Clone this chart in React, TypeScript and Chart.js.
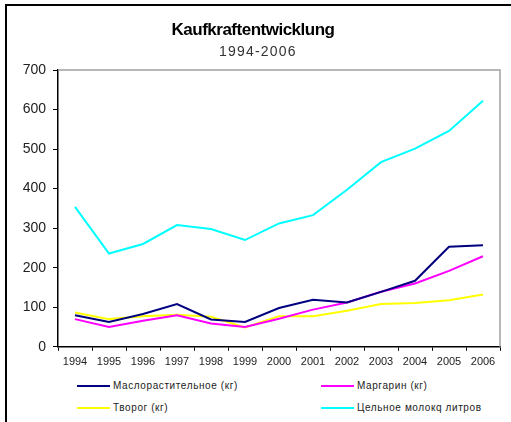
import React, { useEffect, useRef } from "react";
import { Chart, registerables } from "chart.js";

Chart.register(...registerables);

const years = ["1994", "1995", "1996", "1997", "1998", "1999", "2000", "2001", "2002", "2003", "2004", "2005", "2006"];
const oil = [80, 63, 83, 108, 69, 63, 98, 119, 112, 139, 167, 253, 257];
const margarine = [70, 50, 66, 80, 59, 50, 71, 94, 112, 139, 160, 192, 229];
const quark = [87, 70, 77, 81, 76, 49, 77, 77, 91, 108, 111, 118, 132];
const milk = [354, 236, 260, 308, 298, 270, 312, 333, 397, 467, 501, 546, 622];

const seriesNames = ["Маслорастительное (кг)", "Маргарин (кг)", "Творог (кг)", "Цельное молокq литров"];
const seriesColors = ["#000080", "#ff00ff", "#ffff00", "#00ffff"];
const seriesData = [oil, margarine, quark, milk];

const titleText = "Kaufkraftentwicklung";
const subtitleText = "1994-2006";
const yMin = 0;
const yMax = 700;
const yStep = 100;

const FONT = "'Liberation Sans', Arial, sans-serif";

const frameBorderPlugin = {
  id: "frameBorder",
  afterDraw(chart: any) {
    const { ctx, chartArea } = chart;
    ctx.save();
    ctx.strokeStyle = "#a0a0a0";
    ctx.lineWidth = 1.5;
    ctx.beginPath();
    ctx.moveTo(chartArea.left, chartArea.top);
    ctx.lineTo(chartArea.right, chartArea.top);
    ctx.lineTo(chartArea.right, chartArea.bottom);
    ctx.stroke();
    ctx.restore();
  },
};

export default function App() {
  const canvasRef = useRef<HTMLCanvasElement | null>(null);

  useEffect(() => {
    if (!canvasRef.current) return;
    const chart = new Chart(canvasRef.current, {
      type: "line",
      data: {
        labels: years,
        datasets: seriesData.map((d, i) => ({
          label: seriesNames[i],
          data: d,
          borderColor: seriesColors[i],
          backgroundColor: seriesColors[i],
          borderWidth: 2,
          pointRadius: 0,
          tension: 0,
          fill: false,
        })),
      },
      options: {
        animation: false,
        responsive: false,
        maintainAspectRatio: false,
        layout: { padding: { left: 6, right: 6, top: 70, bottom: 2 } },
        plugins: {
          legend: { display: false },
          tooltip: { enabled: false },
          title: { display: false },
        },
        scales: {
          x: {
            type: "category",
            offset: true,
            grid: {
              offset: true,
              drawOnChartArea: false,
              drawTicks: true,
              tickLength: 4,
              color: "#000",
            },
            border: { color: "#000", width: 1.5 },
            ticks: {
              color: "#222",
              font: { family: FONT, size: 11 },
              padding: 5,
              maxRotation: 0,
              autoSkip: false,
            },
          },
          y: {
            min: yMin,
            max: yMax,
            afterFit(scale: any) {
              scale.width = 52;
            },
            grid: {
              drawOnChartArea: false,
              drawTicks: true,
              tickLength: 5,
              color: "#000",
            },
            border: { color: "#000", width: 1.5 },
            ticks: {
              stepSize: yStep,
              color: "#222",
              font: { family: FONT, size: 14 },
              padding: 7,
            },
          },
        },
      },
      plugins: [frameBorderPlugin],
    });
    return () => chart.destroy();
  }, []);

  const legendPos = [
    { lx: 77, tx: 113, y: 386 },
    { lx: 321, tx: 357, y: 386 },
    { lx: 77, tx: 113, y: 408 },
    { lx: 321, tx: 357, y: 408 },
  ];

  return (
    <div style={{ position: "fixed", left: 0, top: 0, width: 511, height: 422, background: "#fff", overflow: "hidden" }}>
      <div
        style={{
          position: "absolute",
          left: 5,
          top: 4,
          width: 510,
          height: 420,
          borderLeft: "2px solid #000",
          borderTop: "2px solid #000",
          boxSizing: "border-box",
        }}
      />
      <canvas ref={canvasRef} width={506} height={376} style={{ position: "absolute", left: 0, top: 0, width: 506, height: 376 }} />
      <div
        style={{
          position: "absolute",
          left: 0,
          width: 506,
          top: 19,
          height: 22,
          lineHeight: "22px",
          textAlign: "center",
          fontFamily: FONT,
          fontSize: 17,
          fontWeight: "bold",
          letterSpacing: "-0.5px",
          color: "#000",
        }}
      >
        {titleText}
      </div>
      <div
        style={{
          position: "absolute",
          left: 219,
          top: 42,
          height: 18,
          lineHeight: "18px",
          fontFamily: FONT,
          fontSize: 14,
          letterSpacing: "1.2px",
          color: "#333",
          whiteSpace: "nowrap",
        }}
      >
        {subtitleText}
      </div>
      {seriesNames.map((name, i) => (
        <React.Fragment key={name}>
          <div
            style={{
              position: "absolute",
              left: legendPos[i].lx,
              top: legendPos[i].y - 1,
              width: 33,
              height: 2,
              background: seriesColors[i],
            }}
          />
          <div
            style={{
              position: "absolute",
              left: legendPos[i].tx,
              top: legendPos[i].y - 7,
              height: 14,
              lineHeight: "14px",
              fontFamily: FONT,
              fontSize: 10,
              letterSpacing: "0.6px",
              color: "#222",
              whiteSpace: "nowrap",
            }}
          >
            {name}
          </div>
        </React.Fragment>
      ))}
    </div>
  );
}
